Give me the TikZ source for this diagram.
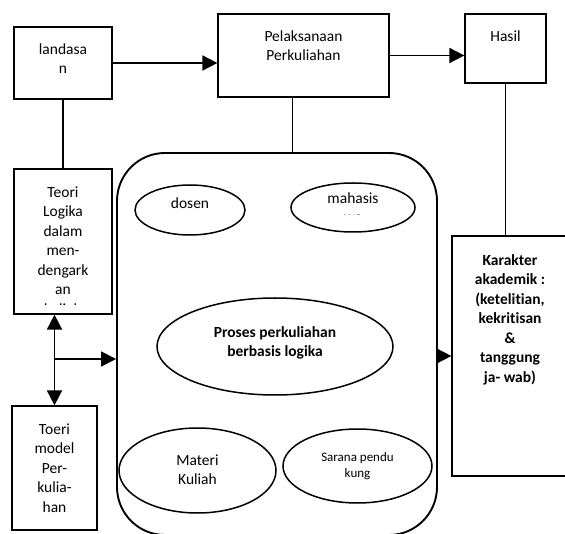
\documentclass[tikz,border=0pt]{standalone}
\usepackage{fontspec}
\setmainfont[Ligatures=NoCommon]{Carlito}
\usetikzlibrary{positioning,shapes.geometric,arrows.meta}

\tikzset{
  box/.style={draw, line width=1.2pt, inner sep=0pt},
  oval/.style={draw, ellipse, line width=1.5pt, inner sep=0pt},
  txt/.style={align=center, inner sep=0pt, font=\fontsize{15.5}{19.5}\selectfont},
  arr/.style={-{Triangle[length=15pt,width=15pt]}, line width=1.7pt},
  link/.style={line width=1.3pt}
}

\begin{document}
\begin{tikzpicture}[x=1pt, y=-1pt]
\useasboundingbox (0,0) rectangle (565,534);

% Boxes along the top
\node[box, minimum width=98pt, minimum height=72pt] (land) at (63,63) {};
\node[box, minimum width=171pt, minimum height=83pt] (pel) at (303.5,55.5) {};
\node[box, minimum width=81pt, minimum height=69pt] (hasil) at (505.5,48.5) {};
\node[txt, below=17pt of land.north] (landT) {landasa\\n};
\node[txt, below=17pt of pel.north] (pelT) {Pelaksanaan\\Perkuliahan};
\node[txt, below=17pt of hasil.north] (hasilT) {Hasil};

% Boxes on the left and right
\node[box, minimum width=98pt, minimum height=145pt] (teori) at (63,241.5) {};
\node[box, minimum width=85pt, minimum height=124pt] (toeri) at (54.5,468) {};
\node[box, minimum width=116pt, minimum height=240pt] (kar) at (510,356) {};
\begin{scope}
\clip (teori.north west) rectangle ([yshift=10pt]teori.south east);
\node[txt, below=18pt of teori.north] (teoriT) {Teori\\Logika\\dalam\\men-\\dengark\\an\\kuliah};
\end{scope}
\node[txt, below=18pt of toeri.north] (toeriT) {Toeri\\model\\Per-\\kulia-\\han};
\node[txt, font=\fontsize{15.5}{19.5}\selectfont\bfseries, below=19pt of kar.north] (karT)
  {Karakter\\akademik :\\(ketelitian,\\kekritisan\\\&\\tanggung\\ja- wab)};

% Process container
\node[draw, rounded corners=48pt, line width=1.9pt, minimum width=320pt, minimum height=382pt] (cont) at (277,344) {};

% Ovals inside
\node[oval, minimum width=110pt, minimum height=50pt] (dosen) at (190,210) {};
\node[oval, minimum width=124pt, minimum height=49pt] (mhs) at (353,207.5) {};
\node[oval, minimum width=236pt, minimum height=97pt] (proses) at (275,346.5) {};
\node[oval, minimum width=157pt, minimum height=85pt] (materi) at (197.5,470.5) {};
\node[oval, minimum width=149pt, minimum height=74pt] (sarana) at (357.5,466) {};
\node[txt, below=13pt of dosen.north] (dosenT) {dosen};
\begin{scope}
\clip (mhs.north west) rectangle ([yshift=-7.5pt]mhs.east);
\node[txt, below=10pt of mhs.north] (mhsT) {mahasis\\wa};
\end{scope}
\node[txt, font=\fontsize{15.5}{19.5}\selectfont\bfseries, below=29pt of proses.north] (prosesT) {Proses perkuliahan\\berbasis logika};
\node[txt, below=27pt of materi.north] (materiT) {Materi\\Kuliah};
\node[txt, font=\fontsize{13}{16}\selectfont, below=24pt of sarana.north] (saranaT) {Sarana pendu\\kung};

% Connectors
\draw[arr] (land.east) -- (land.east -| pel.west);
\draw[arr] (pel.east) -- (pel.east -| hasil.west);
\draw[link] (land) -- (teori);
\draw[link] ([xshift=-11pt]pel.south) -- ([xshift=-11pt]pel.south |- cont.north);
\draw[link] (hasil.south) -- (hasil.south |- kar.north);
\draw[arr, {Triangle[length=15pt,width=15pt]}-{Triangle[length=15pt,width=15pt]}] (teori.south -| toeri.north) -- (toeri.north);
\coordinate (split) at (toeri.north |- 0,359);
\draw[arr] (split) -- (split -| cont.west);
\draw[arr] (kar.west -| cont.east) -- (kar.west);
\end{tikzpicture}
\end{document}
